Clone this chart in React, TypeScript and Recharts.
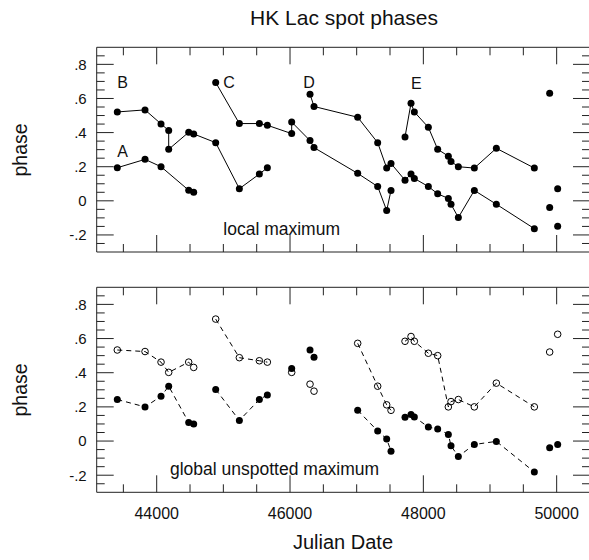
import React from 'react';
import { ComposedChart, Line, XAxis, YAxis } from 'recharts';

// Julian dates (minus 2400000) of the observing seasons
const jdA = [43409, 43825, 44065, 44480, 44555];
const jdB = [43409, 43825, 44065, 44180, 44180, 44480, 44555, 44885, 45240, 45540, 45660];
const jdC = [44885, 45240, 45540, 45660, 46025, 46025, 46300, 46360, 47015, 47315, 47450, 47515];
const jdD = [46300, 46360, 47015, 47315, 47450, 47515, 47725, 47815, 47865, 48075, 48215, 48375, 48415, 48525, 48765, 49095, 49665];
const jdE = [47725, 47815, 47865, 48075, 48215, 48375, 48415, 48525, 48765, 49095, 49665];
const jdLoose = [49895, 50015, 49895, 50015];

// local maximum phases
const phaseA = [0.194, 0.243, 0.2, 0.062, 0.05];
const phaseB = [0.521, 0.533, 0.451, 0.412, 0.302, 0.402, 0.392, 0.341, 0.071, 0.157, 0.194];
const phaseC = [0.694, 0.453, 0.453, 0.443, 0.394, 0.462, 0.353, 0.312, 0.161, 0.084, -0.057, 0.061];
const phaseD = [0.625, 0.553, 0.49, 0.341, 0.192, 0.219, 0.121, 0.157, 0.131, 0.084, 0.041, 0.014, -0.02, -0.098, 0.061, -0.02, -0.163];
const phaseE = [0.374, 0.572, 0.521, 0.431, 0.302, 0.262, 0.231, 0.2, 0.192, 0.308, 0.192];
const phaseLoose = [0.631, 0.071, -0.039, -0.149];

// global unspotted maximum, grouped by season runs
const jdG1 = [43409, 43825, 44065, 44180, 44480, 44555];
const jdG2 = [44885, 45240, 45540, 45660];
const jdG3 = [46025, 46300, 46360];
const jdG4 = [47015, 47315, 47450, 47515];
const jdG5 = [47725, 47815, 47865, 48075, 48215, 48375, 48415, 48525, 48765, 49095, 49665];
const jdG6 = [49895, 50015];

const openG1 = [0.533, 0.524, 0.462, 0.402, 0.462, 0.431];
const openG2 = [0.714, 0.488, 0.47, 0.462];
const openG3 = [0.402, 0.333, 0.292];
const openG4 = [0.572, 0.321, 0.212, 0.18];
const openG5 = [0.584, 0.612, 0.584, 0.514, 0.5, 0.2, 0.231, 0.243, 0.2, 0.339, 0.2];
const openG6 = [0.521, 0.625];

const fillG1 = [0.243, 0.2, 0.262, 0.321, 0.109, 0.1];
const fillG2 = [0.302, 0.121, 0.243, 0.27];
const fillG3 = [0.424, 0.533, 0.49];
const fillG4 = [0.18, 0.059, 0.012, -0.059];
const fillG5 = [0.139, 0.155, 0.141, 0.082, 0.071, 0.039, -0.028, -0.09, -0.02, -0.002, -0.181];
const fillG6 = [-0.039, -0.02];

const xTicks = [43500, 44000, 44500, 45000, 45500, 46000, 46500, 47000, 47500, 48000, 48500, 49000, 49500, 50000];
const xLabels = [44000, 46000, 48000, 50000];
const yTicks = [-0.25, -0.2, -0.15, -0.1, -0.05, 0, 0.05, 0.1, 0.15, 0.2, 0.25, 0.3, 0.35, 0.4, 0.45, 0.5, 0.55, 0.6, 0.65, 0.7, 0.75, 0.8, 0.85];
const yLabels = ['-.2', '0', '.2', '.4', '.6', '.8'];
const yLabelValues = [-0.2, 0, 0.2, 0.4, 0.6, 0.8];

const FONT = '"Liberation Sans", Arial, Helvetica, sans-serif';
const INK = '#222';

const zip = (xs: number[], ys: number[]) => xs.map((jd, i) => ({ jd, phase: ys[i] }));

const isMajorY = (v: number) => yLabelValues.some((m) => Math.abs(m - v) < 1e-6);
const yText = (v: number) => yLabels[yLabelValues.findIndex((m) => Math.abs(m - v) < 1e-6)];

const BottomTick = (props: any) => {
  const { x, y, payload, showLabel } = props;
  const major = xLabels.includes(payload.value);
  return (
    <g>
      <line x1={x} x2={x} y1={y} y2={y - (major ? 17 : 8)} stroke={INK} />
      {showLabel && major && (
        <text x={x} y={y + 27} textAnchor="middle" fontSize={16} fontFamily={FONT} fill="#111">
          {payload.value}
        </text>
      )}
    </g>
  );
};

const TopTick = (props: any) => {
  const { x, y, payload } = props;
  const major = xLabels.includes(payload.value);
  return <line x1={x} x2={x} y1={y} y2={y + (major ? 17 : 8)} stroke={INK} />;
};

const LeftTick = (props: any) => {
  const { x, y, payload } = props;
  const major = isMajorY(payload.value);
  return (
    <g>
      <line x1={x} x2={x + (major ? 17 : 8)} y1={y} y2={y} stroke={INK} />
      {major && (
        <text x={x - 10} y={y} dy="0.36em" textAnchor="end" fontSize={15} fontFamily={FONT} fill="#111">
          {yText(payload.value)}
        </text>
      )}
    </g>
  );
};

const RightTick = (props: any) => {
  const { x, y, payload } = props;
  const major = isMajorY(payload.value);
  return <line x1={x} x2={x - (major ? 17 : 8)} y1={y} y2={y} stroke={INK} />;
};

const filledDot = (p: any) => <circle key={`f${p.index}`} cx={p.cx} cy={p.cy} r={3.5} fill="#000" />;
const openDot = (p: any) => (
  <circle key={`o${p.index}`} cx={p.cx} cy={p.cy} r={3.3} fill="none" stroke="#000" strokeWidth={1} />
);

type PanelProps = { height: number; top: number; bottom: number; showLabels: boolean; children: React.ReactNode };

// each axis is 1px thick, so margins are 1px smaller than the frame position
const Panel = ({ height, top, bottom, showLabels, children }: PanelProps) => (
  <ComposedChart width={591} height={height} margin={{ top: top - 1, right: 0, bottom: bottom - 1, left: 95.7 }}>
    <XAxis
      type="number"
      dataKey="jd"
      domain={[43100, 50500]}
      ticks={xTicks}
      interval={0}
      height={1}
      tickSize={0}
      tickMargin={0}
      tickLine={false}
      axisLine={{ stroke: INK }}
      tick={(p: any) => <BottomTick {...p} showLabel={showLabels} />}
      allowDataOverflow
    />
    <XAxis
      xAxisId="top"
      orientation="top"
      type="number"
      dataKey="jd"
      domain={[43100, 50500]}
      ticks={xTicks}
      interval={0}
      height={1}
      tickSize={0}
      tickMargin={0}
      tickLine={false}
      axisLine={{ stroke: INK }}
      tick={(p: any) => <TopTick {...p} />}
      allowDataOverflow
    />
    <YAxis
      type="number"
      dataKey="phase"
      domain={[-0.3, 0.9]}
      ticks={yTicks}
      interval={0}
      width={1}
      tickSize={0}
      tickMargin={0}
      tickLine={false}
      axisLine={{ stroke: INK }}
      tick={(p: any) => <LeftTick {...p} />}
      allowDataOverflow
    />
    <YAxis
      yAxisId="right"
      orientation="right"
      type="number"
      dataKey="phase"
      domain={[-0.3, 0.9]}
      ticks={yTicks}
      interval={0}
      width={1}
      tickSize={0}
      tickMargin={0}
      tickLine={false}
      axisLine={{ stroke: INK }}
      tick={(p: any) => <RightTick {...p} />}
      allowDataOverflow
    />
    {children}
  </ComposedChart>
);

const solid = (key: string, jd: number[], ph: number[]) => (
  <Line
    key={key}
    data={zip(jd, ph)}
    dataKey="phase"
    stroke="#000"
    strokeWidth={1}
    dot={filledDot}
    activeDot={false}
    isAnimationActive={false}
  />
);

const dashed = (key: string, jd: number[], ph: number[], open: boolean, joined = true) => (
  <Line
    key={key}
    data={zip(jd, ph)}
    dataKey="phase"
    stroke={joined ? '#000' : 'none'}
    strokeWidth={1}
    strokeDasharray="5 4"
    dot={open ? openDot : filledDot}
    activeDot={false}
    isAnimationActive={false}
  />
);

const textStyle = { fontFamily: FONT, fill: '#111' };

export default function App() {
  return (
    <div style={{ position: 'absolute', left: 0, top: 0, width: 589, height: 560, overflow: 'hidden', background: '#fff' }}>
      <div style={{ position: 'absolute', left: 0, top: 0 }}>
        <Panel height={270} top={47.3} bottom={18} showLabels={false}>
          {solid('A', jdA, phaseA)}
          {solid('B', jdB, phaseB)}
          {solid('C', jdC, phaseC)}
          {solid('D', jdD, phaseD)}
          {solid('E', jdE, phaseE)}
          <Line
            data={zip(jdLoose, phaseLoose)}
            dataKey="phase"
            stroke="none"
            dot={filledDot}
            activeDot={false}
            isAnimationActive={false}
          />
        </Panel>
      </div>
      <div style={{ position: 'absolute', left: 0, top: 270 }}>
        <Panel height={290} top={17.3} bottom={67.7} showLabels>
          {dashed('o1', jdG1, openG1, true)}
          {dashed('f1', jdG1, fillG1, false)}
          {dashed('o2', jdG2, openG2, true)}
          {dashed('f2', jdG2, fillG2, false)}
          {dashed('o3', jdG3, openG3, true, false)}
          {dashed('f3', jdG3, fillG3, false, false)}
          {dashed('o4', jdG4, openG4, true)}
          {dashed('f4', jdG4, fillG4, false)}
          {dashed('o5', jdG5, openG5, true)}
          {dashed('f5', jdG5, fillG5, false)}
          {dashed('o6', jdG6, openG6, true, false)}
          {dashed('f6', jdG6, fillG6, false, false)}
        </Panel>
      </div>
      <svg width={589} height={560} style={{ position: 'absolute', left: 0, top: 0, pointerEvents: 'none' }}>
        <text x={344} y={25} textAnchor="middle" fontSize={21} {...textStyle}>HK Lac spot phases</text>
        <text transform="translate(27,150) rotate(-90)" textAnchor="middle" fontSize={19.5} {...textStyle}>phase</text>
        <text transform="translate(27,390) rotate(-90)" textAnchor="middle" fontSize={19.5} {...textStyle}>phase</text>
        <text x={343} y={549} textAnchor="middle" fontSize={20} {...textStyle}>Julian Date</text>
        <text x={117.3} y={88.3} fontSize={16} {...textStyle}>B</text>
        <text x={117.3} y={157.3} fontSize={16} {...textStyle}>A</text>
        <text x={223.3} y={88.3} fontSize={16} {...textStyle}>C</text>
        <text x={303.3} y={88.3} fontSize={16} {...textStyle}>D</text>
        <text x={411} y={89} fontSize={16} {...textStyle}>E</text>
        <text x={223.3} y={235} fontSize={17.5} {...textStyle}>local maximum</text>
        <text x={170} y={475} fontSize={17.5} {...textStyle}>global unspotted maximum</text>
      </svg>
    </div>
  );
}
